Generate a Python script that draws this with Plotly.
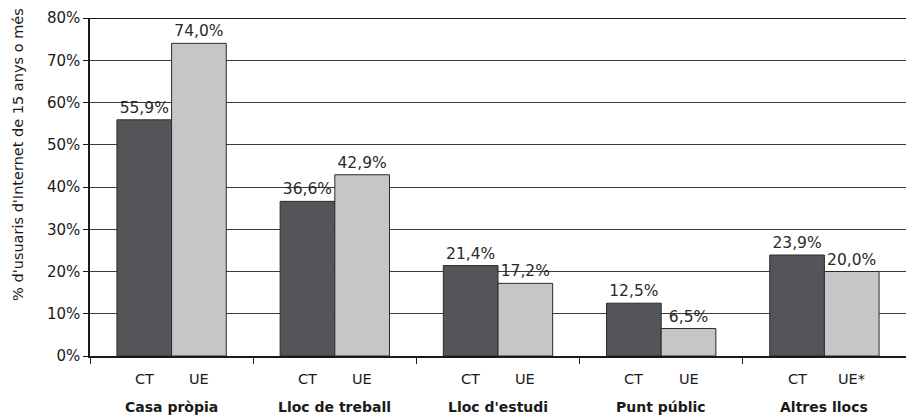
"""Internet access location: Catalonia (CT) vs EU (UE)."""

import plotly.graph_objects as go

categories = ["Casa pròpia", "Lloc de treball", "Lloc d'estudi", "Punt públic", "Altres llocs"]
ct_values = [0.559, 0.366, 0.214, 0.125, 0.239]
ue_values = [0.740, 0.429, 0.172, 0.065, 0.200]
ct_labels = ["CT", "CT", "CT", "CT", "CT"]
ue_labels = ["UE", "UE", "UE", "UE", "UE*"]
y_title = "% d'usuaris d'Internet de 15 anys o més"

FONT = "DejaVu Sans"
DARK = "#545559"
LIGHT = "#c5c6c8"
EDGE = "#2b2b2b"

fig = go.Figure()
for name, vals, color in [("CT", ct_values, DARK), ("UE", ue_values, LIGHT)]:
    fig.add_trace(go.Bar(
        x=categories, y=vals, name=name,
        marker=dict(color=color, line=dict(color=EDGE, width=1)),
        texttemplate="%{y:.1%}", textposition="outside",
        textfont=dict(family=FONT, size=15.5, color="#2a2a2a"),
        cliponaxis=False,
    ))

# sub-labels under each bar and bold group names
half = (1 - 0.33) / 4
for i, cat in enumerate(categories):
    for dx, lab in [(-half, ct_labels[i]), (half, ue_labels[i])]:
        fig.add_annotation(x=i + dx, y=0, xref="x", yref="paper", text=lab,
                           showarrow=False, yanchor="middle", yshift=-23,
                           font=dict(family=FONT, size=14.5, color="#1a1a1a"))
    fig.add_annotation(x=i, y=0, xref="x", yref="paper", text=f"<b>{cat}</b>",
                       showarrow=False, yanchor="middle", yshift=-51,
                       font=dict(family=FONT, size=14, color="#1a1a1a"))

# y title sits a bit above the axis centre in the original
fig.add_annotation(x=0, y=0.595, xref="paper", yref="paper", text=y_title,
                   textangle=-90, showarrow=False, xanchor="center", yanchor="middle",
                   xshift=-72, font=dict(family=FONT, size=14.5, color="#1a1a1a"))

fig.update_layout(
    width=906, height=419, margin=dict(l=90, r=0, t=18, b=63, autoexpand=False),
    plot_bgcolor="white", paper_bgcolor="white",
    barmode="group", bargap=0.33, bargroupgap=0,
    separators=",.", showlegend=False,
    font=dict(family=FONT, size=14, color="#1a1a1a"),
)
fig.update_xaxes(
    type="category", showticklabels=False, tickson="boundaries",
    ticks="outside", ticklen=6, tickcolor="#1a1a1a",
    showline=True, linecolor="#1a1a1a", linewidth=1.5, showgrid=False,
)
fig.update_yaxes(
    range=[0, 0.8], dtick=0.1, tickformat=".0%",
    ticks="outside", ticklen=5, tickcolor="#1a1a1a",
    showline=True, linecolor="#1a1a1a", linewidth=1.5,
    showgrid=True, gridcolor="#3a3a3a", gridwidth=1.2, zeroline=False,
    tickfont=dict(family=FONT, size=15), automargin=False,
)
# top frame line at 80%
fig.add_hline(y=0.8, line=dict(color="#1a1a1a", width=2))

fig.write_html("out.html", config={"displayModeBar": False},
               post_script="document.body.style.margin='0';")
